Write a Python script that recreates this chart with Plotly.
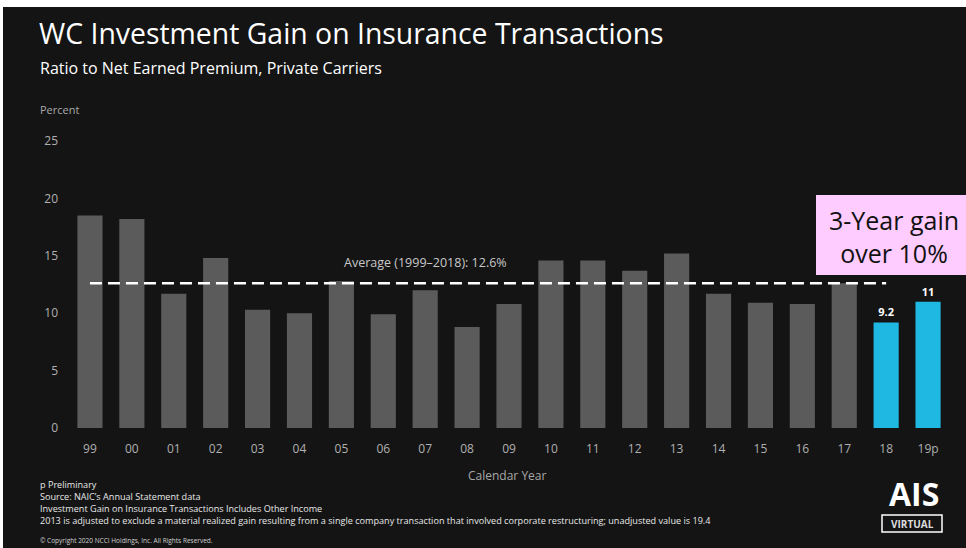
import plotly.graph_objects as go

years = ["99", "00", "01", "02", "03", "04", "05", "06", "07", "08", "09",
         "10", "11", "12", "13", "14", "15", "16", "17", "18", "19p"]
values = [18.5, 18.2, 11.7, 14.8, 10.3, 10.0, 12.8, 9.9, 12.0, 8.8, 10.8,
          14.6, 14.6, 13.7, 15.2, 11.7, 10.9, 10.8, 12.6, 9.2, 11.0]
bar_labels = ["", "", "", "", "", "", "", "", "", "", "",
              "", "", "", "", "", "", "", "", "<b>9.2</b>", "<b>11</b>"]
highlight = ["18", "19p"]
average = 12.6
y_ticks = [0, 5, 10, 15, 20, 25]

FONT = "Open Sans"
BG = "#141414"
GRAY_BAR = "#5b5b5b"
BLUE_BAR = "#1fb8e3"
colors = [BLUE_BAR if y in highlight else GRAY_BAR for y in years]

L, R, T, B = 69, 17, 141, 120
PW, PH = 966 - L - R, 548 - T - B


def px(x, y):
    return (x - L) / PW, (548 - B - y) / PH


fig = go.Figure()
fig.add_trace(go.Bar(
    x=years, y=values, marker=dict(color=colors, line=dict(width=0)),
    width=0.6, text=bar_labels, textposition="outside",
    textfont=dict(color="#ffffff", size=11, family=FONT),
    cliponaxis=False, hoverinfo="x+y",
))

fig.update_layout(
    width=966, height=548,
    paper_bgcolor=BG,
    plot_bgcolor=BG,
    margin=dict(l=L, r=R, t=T, b=B),
    showlegend=False,
    xaxis=dict(type="category", showgrid=False, zeroline=False, showline=False,
               tickfont=dict(color="#b0b0b0", size=12, family=FONT),
               ticks="", ticklabelstandoff=12),
    yaxis=dict(range=[0, 25], tickvals=y_ticks, showgrid=False, zeroline=False,
               showline=False, tickfont=dict(color="#b0b0b0", size=12, family=FONT),
               ticklabelstandoff=10),
    font=dict(family=FONT),
)

fig.add_shape(type="line", xref="x", yref="y", x0=0, x1=19.0, y0=average, y1=average,
              line=dict(color="#ffffff", width=2.5, dash="12px,6px"))
fig.add_annotation(x=8.0, y=average, xref="x", yref="y", yshift=21,
                   text="Average (1999\u20132018): 12.6%", showarrow=False,
                   font=dict(color="#c8c8c8", size=12.5, family=FONT))

# white border strips (top and left)
x0, y0 = px(0, 0)
x1, y1 = px(966, 7)
fig.add_shape(type="rect", xref="paper", yref="paper", x0=x0, x1=x1, y0=y1, y1=y0,
              fillcolor="#ffffff", line=dict(width=0), layer="above")
x0, y0 = px(0, 0)
x1, y1 = px(3, 548)
fig.add_shape(type="rect", xref="paper", yref="paper", x0=x0, x1=x1, y0=y1, y1=y0,
              fillcolor="#ffffff", line=dict(width=0), layer="above")

# pink callout box
x0, y0 = px(816, 275)
x1, y1 = px(966, 195)
fig.add_shape(type="rect", xref="paper", yref="paper", x0=x0, x1=x1, y0=y0, y1=y1,
              fillcolor="#ffccff", line=dict(width=0), layer="above")

# VIRTUAL box outline
x0, y0 = px(882, 532)
x1, y1 = px(942, 515)
fig.add_shape(type="rect", xref="paper", yref="paper", x0=x0, x1=x1, y0=y0, y1=y1,
              fillcolor="rgba(0,0,0,0)", line=dict(color="#ffffff", width=1.5), layer="above")


def px_ann(x, y, text, size, color="#ffffff", xanchor="left", yanchor="middle", **kw):
    ax, ay = px(x, y)
    fig.add_annotation(x=ax, y=ay, xref="paper", yref="paper",
                       text=text, showarrow=False, xanchor=xanchor, yanchor=yanchor,
                       font=dict(size=size, color=color, family=FONT), **kw)


px_ann(37, 33, "WC Investment Gain on Insurance Transactions", 28.4)
px_ann(38, 68, "Ratio to Net Earned Premium, Private Carriers", 16)
px_ann(38, 109, "Percent", 11, color="#a8a8a8")
px_ann(507, 475, "Calendar Year", 12, color="#a8a8a8", xanchor="center")
px_ann(894, 236, "3-Year gain<br>over 10%", 25, color="#111111", xanchor="center", align="center")

foot = ["p Preliminary", "Source: NAIC\u2019s Annual Statement data",
        "Investment Gain on Insurance Transactions Includes Other Income",
        "2013 is adjusted to exclude a material realized gain resulting from a single company transaction that involved corporate restructuring; unadjusted value is 19.4"]
for i, t in enumerate(foot):
    px_ann(38, 484 + 12 * i, t, 9.1, color="#e8e8e8")
px_ann(38, 540, "\u00a9 Copyright 2020 NCCI Holdings, Inc. All Rights Reserved.", 6.5, color="#d0d0d0")

px_ann(914, 494, "<b>AIS</b>", 32, xanchor="center")
px_ann(912, 524, "<b>VIRTUAL</b>", 10, color="#dddddd", xanchor="center")

fig.write_html("out.html", config={"displayModeBar": False},
               post_script="document.body.style.margin='0px';")
